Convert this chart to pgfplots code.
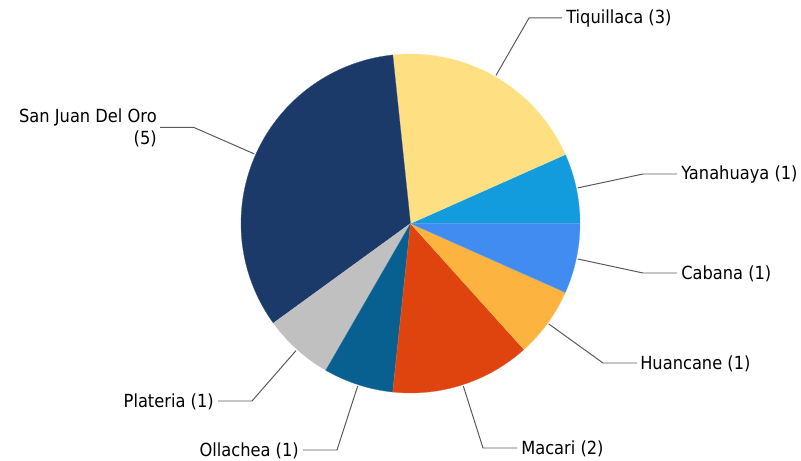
\documentclass[border=0pt]{standalone}
\usepackage{fontspec}
\setmainfont{DejaVu Sans}[FakeStretch=0.9]
\usepackage{pgfplots}
\usepackage{pgfplotstable}
\pgfplotsset{compat=1.18}
\definecolor{cYan}{HTML}{129CDD}
\definecolor{cTiq}{HTML}{FEE083}
\definecolor{cSJ}{HTML}{1B3A69}
\definecolor{cPla}{HTML}{C0C0C0}
\definecolor{cOll}{HTML}{07608F}
\definecolor{cMac}{HTML}{E0440E}
\definecolor{cHua}{HTML}{FDB33F}
\definecolor{cCab}{HTML}{418CF0}
\definecolor{leader}{HTML}{5A5A5A}
% pie data (counterclockwise from 0 deg)
\pgfplotstableread{
idx value
0 1
1 3
2 5
3 1
4 1
5 2
6 1
7 1
}\piedata
\pgfmathsetmacro{\tot}{0}%
\foreach \i in {0,...,7}{%
  \pgfplotstablegetelem{\i}{value}\of\piedata
  \pgfmathsetmacro{\tmp}{\tot+\pgfplotsretval}%
  \global\let\tot\tmp
}%
\def\cum{0}%
\foreach \i in {0,...,7}{%
  \pgfplotstablegetelem{\i}{value}\of\piedata
  \pgfmathsetmacro{\endang}{\cum+360*\pgfplotsretval/\tot}%
  \expandafter\xdef\csname sA\i\endcsname{\cum}%
  \expandafter\xdef\csname eA\i\endcsname{\endang}%
  \xdef\cum{\endang}%
}%
\def\cx{410.5}\def\cy{237.5}\def\rr{169.5}
\newcommand{\slice}[2]{%
  \edef\temp{\noexpand\addplot[fill=#2, draw=#2!85!white, line width=0.2pt, domain=\csname sA#1\endcsname:\csname eA#1\endcsname, samples=80, variable=\noexpand\t]
   ({\cx+\rr*cos(\noexpand\t)},{\cy+\rr*sin(\noexpand\t)}) -- (axis cs:\cx,\cy) -- cycle;}\temp}
\begin{document}%
\begin{tikzpicture}
\begin{axis}[
  scale only axis, width=600.75bp, height=345.75bp,
  xmin=0, xmax=801, ymin=0, ymax=461,
  hide axis, clip=false,
]
\path (rel axis cs:0,0) rectangle (rel axis cs:1,1);
\slice{0}{cYan}
\slice{1}{cTiq}
\slice{2}{cSJ}
\slice{3}{cPla}
\slice{4}{cOll}
\slice{5}{cMac}
\slice{6}{cHua}
\slice{7}{cCab}
% leader lines (pixel coords, y flipped)
\pgfplotsset{leaderline/.style={leader, line width=0.75pt, mark=none}}
\addplot[leaderline] coordinates {(577.8,273.1) (643,287) (677,287)};
\addplot[leaderline] coordinates {(496,385.6) (529,443) (562,443)};
\addplot[leaderline] coordinates {(254.3,307.1) (194,333.5) (160,333.5)};
\addplot[leaderline] coordinates {(296,110.4) (252,60) (218,60)};
\addplot[leaderline] coordinates {(357.7,75) (337,11) (303,11)};
\addplot[leaderline] coordinates {(463.3,75) (483,13) (517,13)};
\addplot[leaderline] coordinates {(548.8,137) (603,98) (637,98)};
\addplot[leaderline] coordinates {(577.8,202) (643,188) (677,188)};
\tikzset{lbl/.style={inner sep=0pt, font=\fontsize{13.6}{16.5}\selectfont}}
\node[lbl, anchor=west] at (axis cs:681,286.5) {Yanahuaya (1)};
\node[lbl, anchor=west] at (axis cs:566,442.5) {Tiquillaca (3)};
\node[lbl, anchor=east, align=right] at (axis cs:157,333) {San Juan Del Oro\\(5)};
\node[lbl, anchor=east] at (axis cs:214,59.5) {Plateria (1)};
\node[lbl, anchor=east] at (axis cs:299,10.5) {Ollachea (1)};
\node[lbl, anchor=west] at (axis cs:521,12.5) {Macari (2)};
\node[lbl, anchor=west] at (axis cs:640,97.5) {Huancane (1)};
\node[lbl, anchor=west] at (axis cs:681,187.5) {Cabana (1)};
\end{axis}
\end{tikzpicture}%
\end{document}
